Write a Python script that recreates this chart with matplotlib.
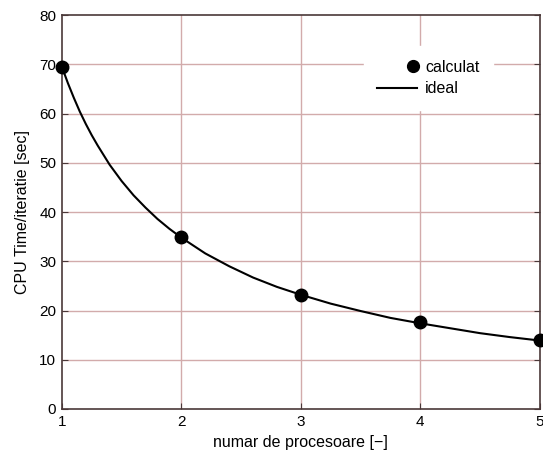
import matplotlib
matplotlib.use("Agg")
import matplotlib.pyplot as plt
from matplotlib.legend_handler import HandlerLine2D

plt.rcParams['font.family'] = ['Liberation Sans', 'DejaVu Sans']

procs = [1, 2, 3, 4, 5]
cpu_time = [69.5, 35.0, 23.2, 17.6, 14.0]

ideal_x = [1.0, 1.05, 1.1, 1.15, 1.2, 1.25, 1.3, 1.4, 1.5, 1.6, 1.7, 1.8, 1.9, 2.0,
           2.2, 2.4, 2.6, 2.8, 3.0, 3.25, 3.5, 3.75, 4.0, 4.25, 4.5, 4.75, 5.0]
ideal_y = [69.5, 66.2, 63.2, 60.4, 57.9, 55.6, 53.5, 49.6, 46.3, 43.4, 40.9, 38.6, 36.6, 34.8,
           31.6, 29.0, 26.7, 24.8, 23.2, 21.4, 19.9, 18.5, 17.4, 16.4, 15.4, 14.6, 13.9]

xticks = [1, 2, 3, 4, 5]
yticks = [0, 10, 20, 30, 40, 50, 60, 70, 80]

GRID = '#d2abab'
FRAME = '#4a3838'

fig = plt.figure(figsize=(5.43, 4.59), dpi=100)
ax = fig.add_axes([0.114, 0.109, 0.880, 0.858])

ax.plot(ideal_x, ideal_y, color='black', lw=1.5, label='ideal', zorder=3)
ax.plot(procs, cpu_time, 'o', color='black', markersize=9, label='calculat', clip_on=False, zorder=4)

ax.set_xlim(1, 5)
ax.set_ylim(0, 80)
ax.set_xticks(xticks)
ax.set_yticks(yticks)
for x in xticks[1:-1]:
    ax.axvline(x, color=GRID, lw=1.0, zorder=1)
for y in yticks[1:-1]:
    ax.axhline(y, color=GRID, lw=1.0, zorder=1)

for s in ax.spines.values():
    s.set_color(FRAME)
    s.set_linewidth(1.2)
ax.tick_params(direction='in', length=4, labelsize=11, color=FRAME, right=True, top=False, pad=4)

ax.set_xlabel('numar de procesoare [\u2212]', fontsize=11.5, labelpad=5)
ax.set_ylabel('CPU Time/iteratie [sec]', fontsize=11.5, labelpad=7)


class RightMarkerHandler(HandlerLine2D):
    def get_xdata(self, legend, xdescent, ydescent, width, height, fontsize):
        xd = [-xdescent + width - 3]
        return xd, xd


h, l = ax.get_legend_handles_labels()
leg = ax.legend([h[1], h[0]], [l[1], l[0]], loc='upper left',
                bbox_to_anchor=((364 - 62) / 478, (409 - 46) / 394),
                frameon=True, fontsize=11.5, handlelength=2.5, handletextpad=0.5,
                borderpad=0.85, labelspacing=0.42, borderaxespad=0,
                handler_map={h[1]: RightMarkerHandler(numpoints=2)})
leg.get_frame().set_edgecolor('white')
leg.get_frame().set_facecolor('white')
leg.get_frame().set_alpha(1)
leg.get_frame().set_boxstyle('square', pad=0)
leg.legend_handles[0].set_linestyle('none')
leg.legend_handles[0].set_markersize(8.5)

fig.savefig('out.png', dpi=100)
